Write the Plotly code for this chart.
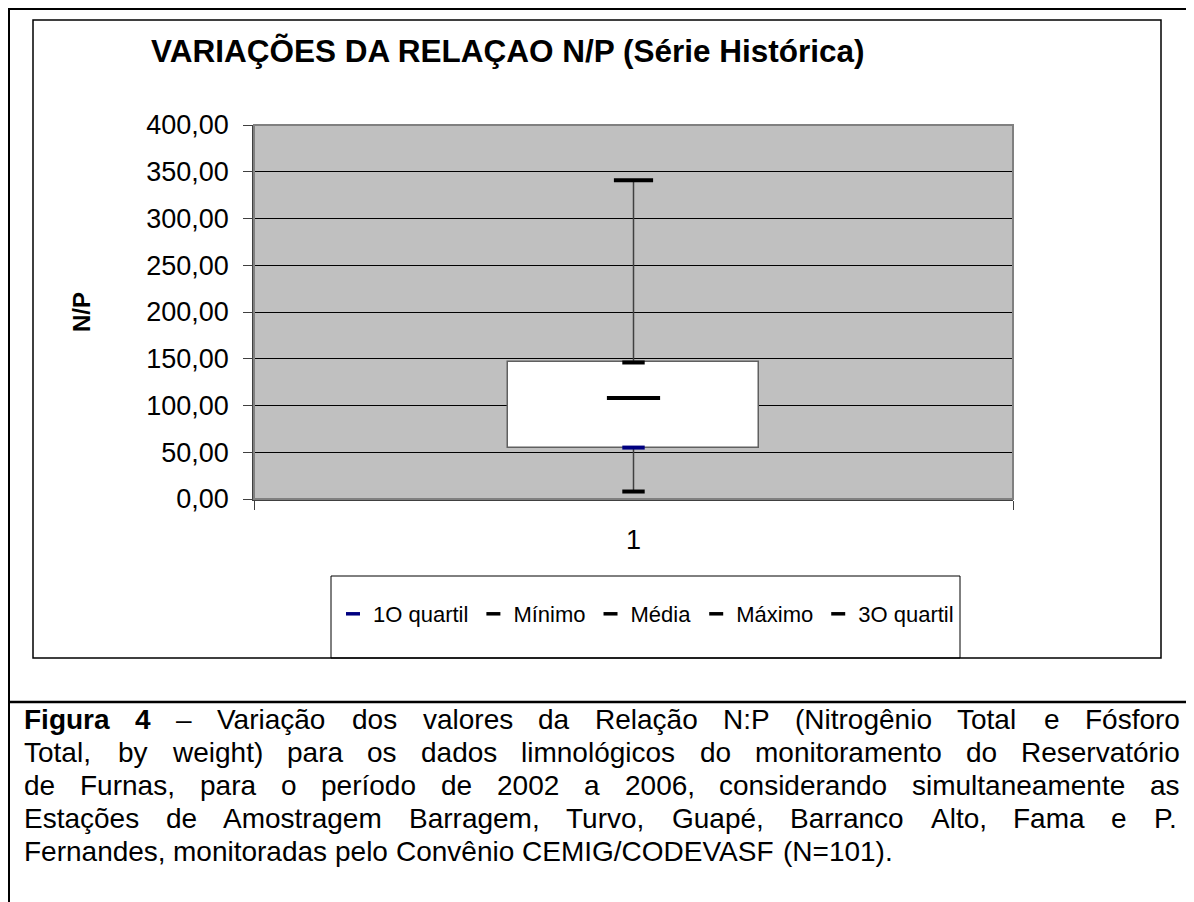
import plotly.graph_objects as go

# ---- data ----
categories = [1]
category_labels = ["1"]
quartil1 = [55.0]
minimo = [8.0]
media = [108.0]
maximo = [341.0]
quartil3 = [146.0]

y_ticks = [0, 50, 100, 150, 200, 250, 300, 350, 400]

series_names = ["1O quartil", "Mínimo", "Média", "Máximo", "3O quartil"]

title_text = "<b>VARIAÇÕES DA RELAÇAO N/P (Série Histórica)</b>"
caption_lines = [
    "Figura 4 – Variação dos valores da Relação N:P (Nitrogênio Total e Fósforo",
    "Total, by weight) para os dados limnológicos do monitoramento do Reservatório",
    "de Furnas, para o período de 2002 a 2006, considerando simultaneamente as",
    "Estações de Amostragem Barragem, Turvo, Guapé, Barranco Alto, Fama e P.",
    "Fernandes, monitoradas pelo Convênio CEMIG/CODEVASF (N=101).",
]
caption_bold_words = {(0, 0), (0, 1)}

# ---- layout geometry (screen pixels; page has an 8px body margin) ----
OFF = 8
W, H = 1194 - OFF, 902 - OFF
PL, PR, PT, PB = 254, 1013, 125, 499  # plot area in screen px


def px(x):
    return (x - PL) / (PR - PL)


def py(y):
    return (PB - y) / (PB - PT)


FONT = "Liberation Sans, Arial, sans-serif"

# Arial / Liberation Sans advance widths (per 1000 em) for justification
REG = {" ": 278, "(": 333, ")": 333, ",": 278, ".": 278, "/": 278, ":": 278, "=": 584,
       "–": 556, "-": 333, "f": 278, "i": 222, "j": 222, "l": 222, "m": 833, "r": 333,
       "t": 278, "c": 500, "k": 500, "s": 500, "v": 500, "x": 500, "y": 500, "z": 500,
       "w": 722, "ç": 500, "í": 278, "A": 667, "B": 667, "C": 722, "D": 722, "E": 667,
       "F": 611, "G": 778, "I": 278, "M": 833, "N": 722, "O": 778, "P": 667, "R": 722,
       "S": 667, "T": 611, "V": 667}
BOLD = {"F": 611, "i": 278, "g": 611, "u": 611, "r": 389, "a": 556, "4": 556}


def wwidth(word, bold, size):
    table = BOLD if bold else REG
    return sum(table.get(ch, 556) for ch in word) * size / 1000.0


fig = go.Figure()

# box between quartiles
fig.add_trace(go.Bar(
    x=categories,
    y=[b - a for a, b in zip(quartil1, quartil3)],
    base=quartil1,
    width=0.33,
    marker=dict(color="white", line=dict(color="#606060", width=1.5)),
    showlegend=False, hoverinfo="skip",
))

# whiskers (min -> Q1, Q3 -> max)
wx, wy = [], []
for c, lo, q1, q3, hi in zip(categories, minimo, quartil1, quartil3, maximo):
    wx += [c, c, None, c, c]
    wy += [lo, q1, None, q3, hi]
fig.add_trace(go.Scatter(
    x=wx, y=wy, mode="lines",
    line=dict(color="#404040", width=1.5),
    showlegend=False, hoverinfo="skip",
))

series = [
    (series_names[0], quartil1, "#000080", 16),
    (series_names[1], minimo, "#000000", 16),
    (series_names[2], media, "#000000", 38),
    (series_names[3], maximo, "#000000", 28),
    (series_names[4], quartil3, "#000000", 16),
]
for name, vals, col, size in series:
    # the data marker
    fig.add_trace(go.Scatter(
        x=categories, y=vals, mode="markers", name=name, legendgroup=name,
        showlegend=False,
        marker=dict(symbol="line-ew", size=size, color=col,
                    line=dict(color=col, width=4)),
    ))
    # its legend key (small thick dash, as in the original legend)
    fig.add_trace(go.Scatter(
        x=[None], y=[None], mode="markers", name=name, legendgroup=name,
        showlegend=True, hoverinfo="skip",
        marker=dict(symbol="line-ew", size=10, color=col,
                    line=dict(color=col, width=3.5)),
    ))

shapes = [
    # outer page frame
    dict(type="line", xref="paper", yref="paper", x0=px(8), x1=px(1194), y0=py(8.5), y1=py(8.5),
         line=dict(color="black", width=3)),
    dict(type="line", xref="paper", yref="paper", x0=px(8.5), x1=px(8.5), y0=py(8), y1=py(902),
         line=dict(color="black", width=3)),
    dict(type="line", xref="paper", yref="paper", x0=px(8), x1=px(1194), y0=py(702), y1=py(702),
         line=dict(color="black", width=2.5)),
    # chart frame
    dict(type="rect", xref="paper", yref="paper", x0=px(33), x1=px(1161), y0=py(20), y1=py(658),
         line=dict(color="black", width=1.5)),
    # legend frame
    dict(type="rect", xref="paper", yref="paper", x0=px(331), x1=px(960), y0=py(576), y1=py(658),
         line=dict(color="black", width=1), fillcolor="white", layer="below"),
    # plot border
    dict(type="rect", xref="paper", yref="paper", x0=0, x1=1, y0=0, y1=1,
         line=dict(color="#808080", width=2)),
]

annotations = [
    dict(text=title_text, xref="paper", yref="paper", x=px(149), y=py(51),
         xanchor="left", yanchor="middle", showarrow=False,
         font=dict(family=FONT, size=31.5, color="black")),
    dict(text="<b>N/P</b>", xref="paper", yref="paper", x=px(81), y=py(312),
         xanchor="center", yanchor="middle", showarrow=False, textangle=-90,
         font=dict(family=FONT, size=24, color="black")),
]

# caption: justified lines (last line left aligned)
CAP_SIZE = 28
CAP_LEFT, CAP_RIGHT = 22, 1178
for i, line in enumerate(caption_lines):
    words = line.split(" ")
    bolds = [(i, j) in caption_bold_words for j in range(len(words))]
    widths = [wwidth(w, b, CAP_SIZE) for w, b in zip(words, bolds)]
    if i < len(caption_lines) - 1 and len(words) > 1:
        gap = (CAP_RIGHT - CAP_LEFT - sum(widths)) / (len(words) - 1)
    else:
        gap = REG[" "] * CAP_SIZE / 1000.0
    x = CAP_LEFT
    for w, b, wd in zip(words, bolds, widths):
        annotations.append(dict(
            text=f"<b>{w}</b>" if b else w, xref="paper", yref="paper",
            x=px(x), y=py(719 + 33 * i), xanchor="left", yanchor="middle",
            showarrow=False, font=dict(family=FONT, size=CAP_SIZE, color="black")))
        x += wd + gap

fig.update_layout(
    width=W, height=H, autosize=False,
    margin=dict(l=PL - OFF, r=W - (PR - OFF), t=PT - OFF, b=H - (PB - OFF), pad=0),
    paper_bgcolor="white", plot_bgcolor="#C0C0C0",
    separators=",.",
    font=dict(family=FONT, size=27, color="black"),
    shapes=shapes, annotations=annotations,
    showlegend=True,
    legend=dict(orientation="h", x=px(333), xanchor="left", y=py(614), yanchor="middle",
                bgcolor="rgba(0,0,0,0)", borderwidth=0,
                font=dict(family=FONT, size=22, color="black"),
                itemwidth=30, tracegroupgap=0),
    bargap=0,
)

fig.update_xaxes(
    range=[0.5, 1.5], tickmode="array", tickvals=categories, ticktext=category_labels,
    ticks="", showgrid=False, zeroline=False,
    showline=True, linecolor="#404040", linewidth=2,
    ticklabelstandoff=16,
    tickfont=dict(family=FONT, size=27, color="black"),
    minor=dict(tickmode="array", tickvals=[0.5, 1.5], ticks="outside", ticklen=9,
               tickcolor="#404040", tickwidth=1, showgrid=False),
)
fig.update_yaxes(
    range=[0, 400], tickmode="array", tickvals=y_ticks, tickformat=".2f",
    ticks="outside", ticklen=9, tickcolor="#404040",
    showgrid=True, gridcolor="black", gridwidth=1, zeroline=False,
    showline=True, linecolor="#404040", linewidth=1.5,
    ticklabelstandoff=9,
    tickfont=dict(family=FONT, size=27, color="black"),
)

fig.write_html("out.html")
